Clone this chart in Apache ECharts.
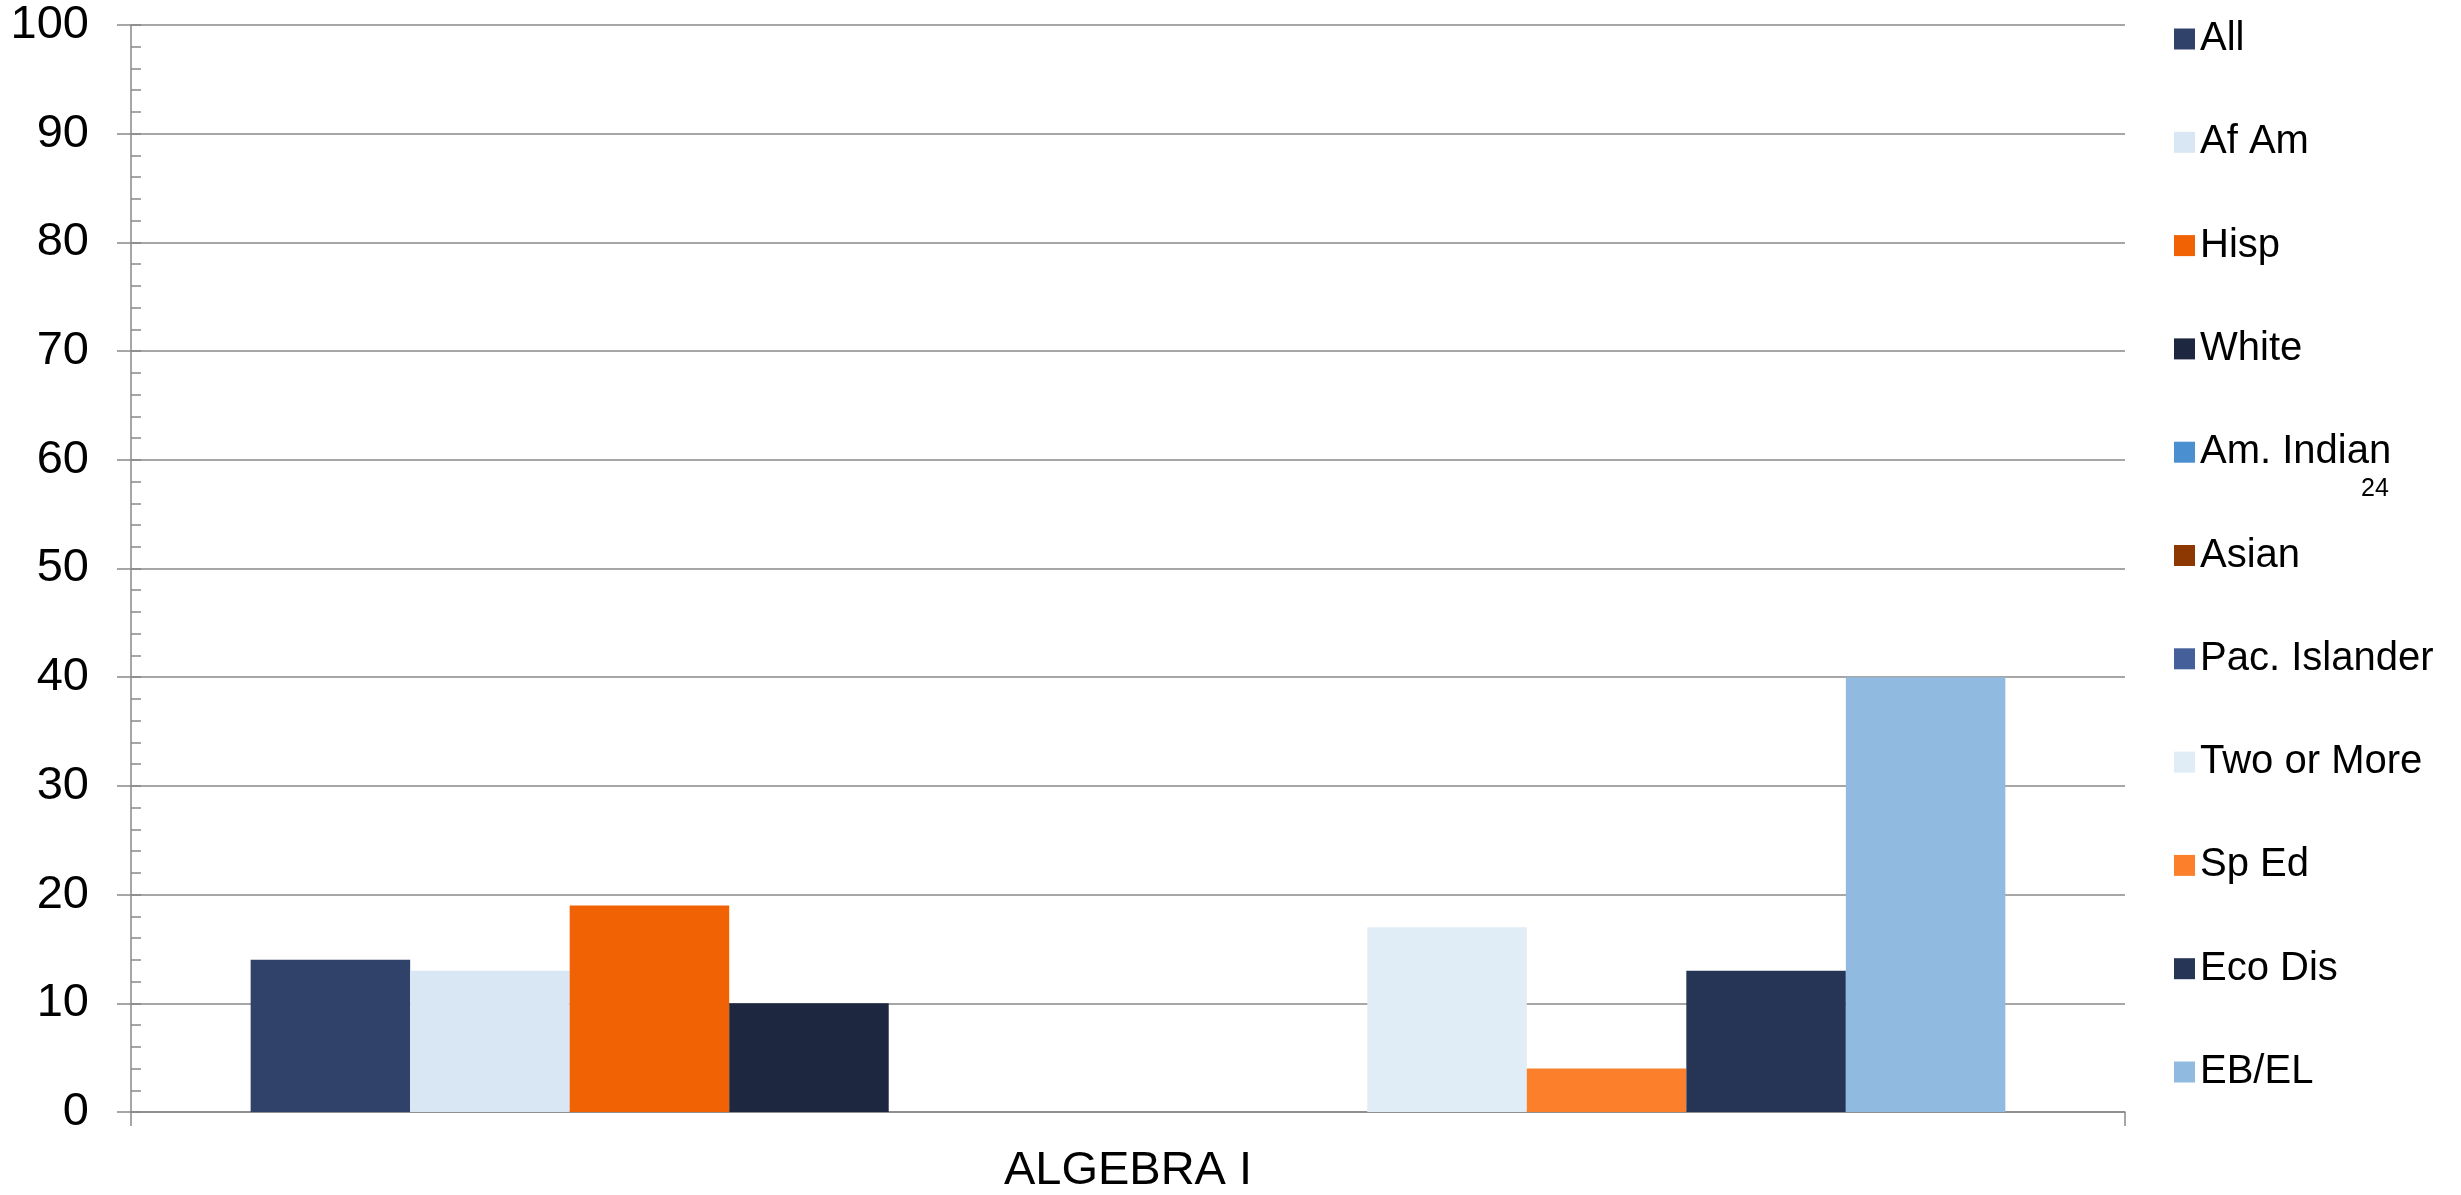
<!DOCTYPE html>
<html>
<head>
<meta charset="utf-8">
<script src="https://cdn.jsdelivr.net/npm/echarts@6/dist/echarts.min.js"></script>
<style>
html,body{margin:0;padding:0;background:#fff;}
#chart{width:2461px;height:1195px;}
</style>
</head>
<body>
<div id="chart"></div>
<script>
const categories = ['ALGEBRA I'];
const seriesNames = ['All','Af Am','Hisp','White','Am. Indian','Asian','Pac. Islander','Two or More','Sp Ed','Eco Dis','EB/EL'];
const seriesValues = [[14],[13],[19],[10],[0],[0],[0],[17],[4],[13],[40]];
const seriesColors = ['#30426a','#d9e7f4','#f06204','#1e2740','#4a8fd0','#8d3703','#455f9a','#e0edf7','#fc802c','#263556','#90bae0'];
const footnote = '24';

const FONT = '"Liberation Sans", Arial, sans-serif';
const GRAY = '#898989';

const chart = echarts.init(document.getElementById('chart'), null, {renderer:'canvas'});
const series = seriesNames.map((name, i) => ({
  name: name,
  type: 'bar',
  data: seriesValues[i],
  barGap: '0%',
  barCategoryGap: '12%',
  itemStyle: {color: seriesColors[i]},
  emphasis: {disabled: true}
}));

chart.setOption({
  animation: false,
  backgroundColor: '#ffffff',
  grid: {left: 131, right: 336, top: 25, bottom: 79, containLabel: false},
  xAxis: {
    type: 'category',
    data: categories,
    boundaryGap: true,
    axisLine: {show: true, lineStyle: {color: GRAY, width: 1.5}},
    axisTick: {show: true, length: 14, inside: false, alignWithLabel: false, lineStyle: {color: GRAY, width: 1.5}},
    axisLabel: {color: '#000', fontFamily: FONT, fontSize: 47, margin: 36}
  },
  yAxis: [{
    type: 'value',
    min: 0, max: 100, interval: 10,
    axisLine: {show: true, lineStyle: {color: GRAY, width: 1.5}},
    axisTick: {show: true, length: 14, inside: false, lineStyle: {color: GRAY, width: 1.5}},
    axisLabel: {color: '#000', fontFamily: FONT, fontSize: 47, margin: 42},
    splitLine: {show: true, lineStyle: {color: GRAY, width: 1.5}}
  }, {
    type: 'value',
    position: 'left',
    min: 0, max: 100, interval: 2,
    axisLine: {show: false},
    axisTick: {show: true, length: 10, inside: true, lineStyle: {color: GRAY, width: 1.5}},
    axisLabel: {show: false},
    splitLine: {show: false}
  }],
  legend: {
    orient: 'vertical',
    left: 2174,
    top: 19,
    padding: 0,
    itemWidth: 21,
    itemHeight: 21,
    itemGap: 63.3,
    icon: 'rect',
    selectedMode: false,
    textStyle: {color: '#000', fontFamily: FONT, fontSize: 40, lineHeight: 40}
  },
  graphic: [{
    type: 'text',
    left: 2361,
    top: 477,
    style: {text: footnote, fill: '#000', font: '25px ' + FONT}
  }],
  series: series
});
</script>
</body>
</html>
